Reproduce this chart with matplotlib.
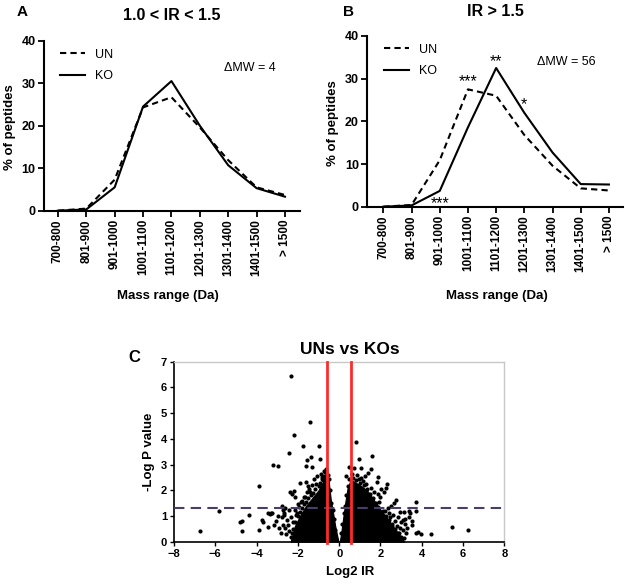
import numpy as np
import matplotlib
matplotlib.use('Agg')
import matplotlib.pyplot as plt
from matplotlib.lines import Line2D

plt.rcParams['font.family'] = ['Liberation Sans', 'DejaVu Sans']

# mass range categories
mass_ranges = ['700-800', '801-900', '901-1000', '1001-1100', '1101-1200',
               '1201-1300', '1301-1400', '1401-1500', '> 1500']

# panel A: 1.0 < IR < 1.5
un_a = [0.0, 0.5, 7.3, 24.3, 26.7, 19.6, 11.9, 5.5, 3.7]
ko_a = [0.0, 0.3, 5.5, 24.5, 30.5, 20.0, 10.7, 5.3, 3.3]

# panel B: IR > 1.5
un_b = [0.0, 0.4, 10.9, 27.5, 26.0, 16.8, 9.6, 4.3, 3.8]
ko_b = [0.0, 0.3, 3.7, 18.6, 32.5, 22.0, 12.7, 5.3, 5.2]

# significance marks in B (category index, baseline y, text)
sig_idx = [3, 4, 5, 2]
sig_y = [28.3, 33.0, 22.8, -0.3]
sig_txt = ['***', '**', '*', '***']

# panel C: volcano plot - dense core envelopes
left_x = [-2.35, -2.15, -1.9, -1.6, -1.3, -1.0, -0.8, -0.65, -0.6, -0.5, -0.4, -0.3, -0.2, -0.1, -0.03]
left_top = [0.0, 0.6, 1.0, 1.4, 1.7, 2.0, 2.3, 2.6, 2.75, 2.3, 1.6, 1.15, 0.65, 0.25, 0.0]
right_x = [0.03, 0.1, 0.2, 0.3, 0.4, 0.55, 0.7, 0.9, 1.1, 1.4, 1.7, 2.0, 2.3, 2.6, 2.9, 3.15]
right_top = [0.0, 0.35, 0.95, 1.55, 2.05, 2.4, 2.35, 2.25, 2.15, 1.95, 1.6, 1.25, 0.95, 0.6, 0.3, 0.0]

# panel C: scattered peptides (log2 IR, -log p)
pts_x = [-6.75, -5.80, -4.73, -4.78, -4.71, -4.38, -3.86, -3.86, -3.74, -3.71, -3.43, -3.18,
         -3.45, -3.32, -3.24, -3.36, -3.22, -2.96, -2.75, -2.74, -2.76, -2.74, -2.31, -1.41,
         -2.20, -1.75, -0.99, -2.41, -1.38, -1.56, -0.93, -1.62, -1.32,
         -2.20, -2.38, -2.28, -2.15, -1.91, -1.63, -1.50, -1.45, -1.55, -1.20, -1.05, -0.90,
         -0.85, -0.75, -1.10, -1.30, -1.70, -1.85, -2.00, -2.60, -2.65, -2.55, -2.62, -2.58,
         -2.45, -2.35, -2.48, -2.30, -2.42, -2.15, -2.05, -2.25, -2.82, -2.90, -3.05, -2.95,
         -2.68, -0.62, -0.70, -0.55, -0.85, -2.10, -1.95, -1.80, -1.65, -1.40,
         -2.35, -2.25, -2.12, -2.00, -1.92, -1.80, -1.72, -1.60, -1.50, -1.38, -1.25, -1.15,
         -1.00, -0.95, -0.80, -0.72, -0.66, -0.50, -0.45, -0.38, -0.32, -0.25, -0.18,
         0.80, 1.60, 0.96, 0.47, 0.73, 1.05, 1.52, 1.90, 2.34, 2.26, 1.41, 1.07, 1.25, 1.81,
         2.05, 2.18, 1.86, 2.00, 1.70, 2.74, 2.66, 2.50, 2.35, 3.14, 2.95, 3.37, 3.71, 3.71,
         3.45, 3.07, 3.00, 3.19, 3.54, 3.30, 2.85, 2.70, 3.10, 3.71, 3.81, 3.95, 4.44, 5.46,
         6.25, 2.90, 3.25, 2.75, 2.60, 2.45, 3.40, 2.95, 0.35, 0.62, 0.85, 1.15, 0.95, 1.30,
         1.55, 1.95, 2.20, 2.40, 2.55, 3.20, 2.80, 3.55,
         0.08, 0.15, 0.22, 0.28, 0.35, 0.42, 0.50, 0.65, 0.80, 1.00, 1.20, 1.35, 1.50, 1.65,
         1.80, 1.90, 2.10, 2.25, 2.40, 2.55, 2.70, 2.85, 3.00, 3.15]
pts_y = [0.43, 1.21, 0.80, 0.76, 0.41, 1.02, 2.17, 0.45, 0.83, 0.77, 0.58, 0.64,
         1.13, 1.13, 1.12, 1.08, 2.97, 2.96, 1.40, 1.22, 0.97, 0.65, 6.43, 4.67,
         4.15, 3.72, 3.72, 3.44, 3.31, 3.19, 3.23, 2.96, 2.92,
         1.98, 1.92, 1.85, 1.75, 2.27, 2.33, 2.18, 2.05, 1.95, 2.45, 2.55, 2.62,
         2.45, 2.75, 2.25, 2.20, 1.72, 1.55, 1.45, 1.30, 1.05, 0.85, 0.52, 0.30,
         1.25, 0.95, 0.65, 0.35, 0.40, 1.25, 1.10, 0.75, 0.33, 0.55, 0.80, 1.00,
         1.10, 2.82, 2.70, 2.60, 2.50, 1.05, 1.35, 1.60, 1.75, 1.95,
         0.20, 0.50, 0.75, 1.00, 1.15, 1.30, 1.45, 1.55, 1.70, 1.80, 1.90, 2.05,
         2.15, 2.30, 2.40, 2.55, 2.72, 2.45, 2.00, 1.50, 1.25, 0.90, 0.45,
         3.87, 3.33, 3.22, 2.92, 2.86, 2.88, 2.83, 2.51, 2.23, 2.08, 2.66, 2.47, 2.55, 2.33,
         2.05, 1.95, 1.84, 1.75, 1.95, 1.62, 1.49, 1.40, 1.30, 1.17, 1.17, 1.18, 1.55, 1.18,
         1.10, 0.86, 0.75, 0.69, 0.64, 0.55, 0.95, 0.80, 0.45, 0.33, 0.39, 0.31, 0.31, 0.56,
         0.46, 0.35, 0.32, 0.30, 1.05, 0.95, 0.95, 0.55, 2.55, 2.65, 2.60, 2.35, 2.45, 2.25,
         2.10, 1.55, 1.20, 1.10, 0.70, 0.90, 0.60, 0.80,
         0.35, 0.70, 1.10, 1.40, 1.80, 2.15, 2.45, 2.48, 2.40, 2.30, 2.20, 2.05, 1.85, 1.70,
         1.50, 1.35, 1.20, 1.00, 0.85, 0.60, 0.50, 0.35, 0.20, 0.15]

ir_cut = 0.585   # log2(1.5)
p_cut = 1.301    # -log10(0.05)

fig = plt.figure(figsize=(6.25, 5.85), dpi=100)
cats = np.arange(len(mass_ranges))


def style_profile(ax, xlim):
    for s in ['top', 'right']:
        ax.spines[s].set_visible(False)
    for s in ['left', 'bottom']:
        ax.spines[s].set_linewidth(1.5)
    ax.set_xlim(*xlim)
    ax.set_ylim(0, 40)
    ax.set_yticks([0, 10, 20, 30, 40])
    ax.set_xticks(cats)
    ax.set_xticklabels(mass_ranges, rotation=90, fontsize=8.5, fontweight='bold')
    for lab in ax.get_yticklabels():
        lab.set_fontsize(9)
        lab.set_fontweight('bold')
    ax.tick_params(direction='out', length=4, width=1.3, pad=2)
    ax.legend(handles=[Line2D([], [], color='black', ls=(0, (3, 2)), lw=1.5),
                       Line2D([], [], color='black', lw=1.5)],
              labels=['UN', 'KO'], frameon=False, loc='upper left',
              bbox_to_anchor=(0.02, 1.02), fontsize=9, handlelength=2.0,
              labelspacing=0.75, handletextpad=0.8)


# panel A
axA = fig.add_axes([44 / 625, 1 - 210.7 / 585, 256 / 625, 170 / 585])
axA.plot(cats, un_a, color='black', ls=(0, (3, 2)), lw=1.5)
axA.plot(cats, ko_a, color='black', lw=1.5)
style_profile(axA, (-0.49, 8.53))
axA.text(5.85, 33.5, '\u0394MW = 4', fontsize=9, va='center', ha='left')
fig.text(172 / 625, 1 - 15 / 585, '1.0 < IR < 1.5', ha='center', va='center',
         fontsize=11.5, fontweight='bold')
fig.text(22 / 625, 1 - 12 / 585, 'A', ha='center', va='center', fontsize=11, fontweight='bold')
fig.text(10 / 625, 1 - 127 / 585, '% of peptides', rotation=90, ha='center', va='center',
         fontsize=9.5, fontweight='bold')
fig.text(168 / 625, 1 - 296 / 585, 'Mass range (Da)', ha='center', va='center',
         fontsize=9.5, fontweight='bold')

# panel B
axB = fig.add_axes([367.3 / 625, 1 - 206.7 / 585, 255.7 / 625, 170.7 / 585])
axB.plot(cats, un_b, color='black', ls=(0, (3, 2)), lw=1.5)
axB.plot(cats, ko_b, color='black', lw=1.5)
style_profile(axB, (-0.57, 8.5))
axB.text(5.45, 34.0, '\u0394MW = 56', fontsize=9, va='center', ha='left')
for i, y, t in zip(sig_idx, sig_y, sig_txt):
    axB.text(cats[i], y, t, ha='center', va='baseline', fontsize=11.5, clip_on=False)
fig.text(495 / 625, 1 - 12 / 585, 'IR > 1.5', ha='center', va='center',
         fontsize=11.5, fontweight='bold')
fig.text(349 / 625, 1 - 12 / 585, 'B', ha='center', va='center', fontsize=11, fontweight='bold')
fig.text(333 / 625, 1 - 123 / 585, '% of peptides', rotation=90, ha='center', va='center',
         fontsize=9.5, fontweight='bold')
fig.text(497 / 625, 1 - 296 / 585, 'Mass range (Da)', ha='center', va='center',
         fontsize=9.5, fontweight='bold')

# panel C: volcano
axC = fig.add_axes([174 / 625, 1 - 541.7 / 585, 330.3 / 625, 180 / 585])
axC.fill_between(left_x, 0, left_top, color='black', lw=0.8, edgecolor='black', zorder=2)
axC.fill_between(right_x, 0, right_top, color='black', lw=0.8, edgecolor='black', zorder=2)
axC.scatter(pts_x, pts_y, s=9, color='black', lw=0, zorder=2)
axC.axhline(p_cut, color='#4a3d68', lw=1.5, ls=(0, (5, 3)), zorder=3)
for xv in [-ir_cut, ir_cut]:
    axC.plot([xv, xv], [-0.05, 7], color='#ff2a2a', lw=2, zorder=4, clip_on=False)
axC.set_xlim(-8, 8)
axC.set_ylim(0, 7)
axC.set_xticks(range(-8, 9, 2))
axC.set_yticks(range(0, 8))
for s in ['top', 'right']:
    axC.spines[s].set_color('#c8c8c8')
    axC.spines[s].set_linewidth(1)
for s in ['left', 'bottom']:
    axC.spines[s].set_linewidth(1.2)
axC.tick_params(direction='out', length=3, width=1, pad=2, labelsize=8)
for lab in axC.get_xticklabels() + axC.get_yticklabels():
    lab.set_fontweight('bold')
fig.text(350 / 625, 1 - 350 / 585, 'UNs vs KOs', ha='center', va='center',
         fontsize=12.5, fontweight='bold')
fig.text(134 / 625, 1 - 358 / 585, 'C', ha='center', va='center', fontsize=12, fontweight='bold')
fig.text(149 / 625, 1 - 452 / 585, '-Log P value', rotation=90, ha='center', va='center',
         fontsize=9.5, fontweight='bold')
fig.text(350 / 625, 1 - 572 / 585, 'Log2 IR', ha='center', va='center',
         fontsize=9.5, fontweight='bold')

fig.savefig('out.png', dpi=100)
